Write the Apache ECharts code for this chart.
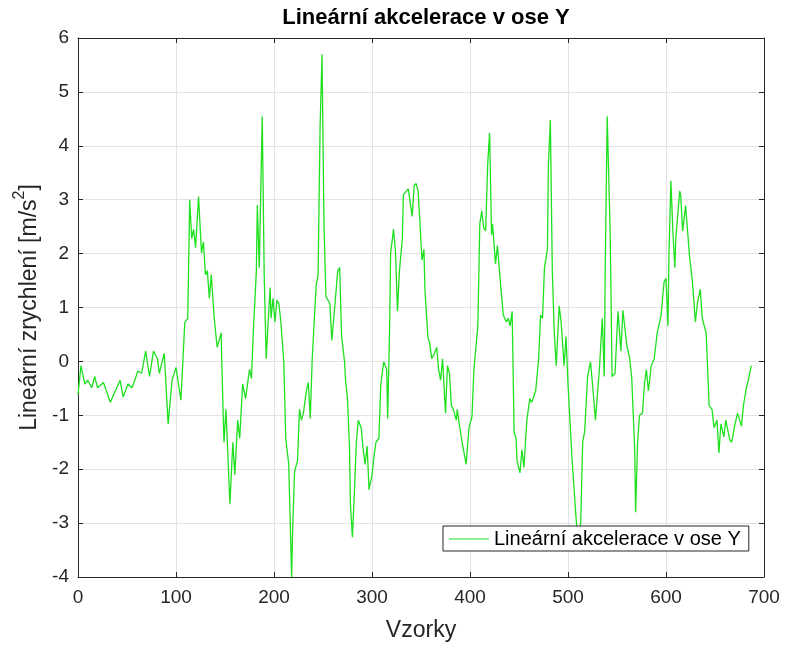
<!DOCTYPE html>
<html>
<head>
<meta charset="utf-8">
<script src="https://cdn.jsdelivr.net/npm/echarts@6/dist/echarts.min.js"></script>
<style>html,body{margin:0;padding:0;background:#fff}#c{width:786px;height:648px}</style>
</head>
<body>
<div id="c"></div>
<script>
var titleText = 'Lineární akcelerace v ose Y';
var seriesName = 'Lineární akcelerace v ose Y';
var xTicks = [0, 100, 200, 300, 400, 500, 600, 700];
var yTicks = [-4, -3, -2, -1, 0, 1, 2, 3, 4, 5, 6];
var samples = [0,3,7,10,14,17,20,26,29,33,38,43,46,51,55,58,61,65,69,73,77,81,83,88,92,96,100,105,109,112,114,116,118,120,123,126,128,130,132,134,136,139,142,144,146,148,149,151,155,158,160,163,165,168,171,175,177,179,182,183,185,188,190,192,196,197,199,201,203,205,207,210,212,215,218,219,221,224,226,228,230,233,235,237,239,242,243,245,247,249,251,253,255,257,259,261,263,265,267,269,272,273,275,277,278,280,282,284,286,289,291,293,295,297,300,302,304,307,309,312,315,316,318,319,322,324,326,328,331,332,335,337,339,341,343,345,347,349,351,353,354,357,359,361,363,366,368,370,372,375,377,379,381,383,386,387,389,392,396,399,402,404,408,410,412,414,416,418,420,422,423,426,428,431,434,437,439,441,443,445,447,448,451,453,455,458,461,463,467,470,472,474,476,479,480,482,484,486,488,491,493,496,498,500,504,508,510,513,515,517,520,523,525,528,530,532,535,537,538,540,543,545,548,551,554,556,560,563,565,568,569,571,573,576,578,580,582,585,588,591,595,598,600,602,603,605,607,609,610,614,615,617,620,622,624,627,630,632,635,637,640,641,644,647,649,652,654,656,659,661,665,667,670,673,677,679,682,684,687];
var values = [-0.62,-0.08,-0.42,-0.35,-0.49,-0.28,-0.49,-0.39,-0.55,-0.76,-0.55,-0.35,-0.66,-0.42,-0.49,-0.35,-0.18,-0.22,0.19,-0.28,0.19,0.05,-0.22,0.15,-1.16,-0.35,-0.11,-0.72,0.73,0.80,3.0,2.28,2.45,2.11,3.06,2.01,2.22,1.61,1.68,1.17,1.61,0.80,0.26,0.39,0.53,-0.89,-1.5,-0.89,-2.65,-1.5,-2.1,-1.09,-1.43,-0.42,-0.69,-0.15,-0.32,0.59,1.68,2.9,1.74,4.55,1.61,0.05,1.37,0.8,1.17,0.73,1.14,1.07,0.73,-0.01,-1.43,-1.9,-4.0,-3.12,-2.04,-1.84,-0.89,-1.09,-0.96,-0.55,-0.39,-1.06,0.05,1.07,1.41,1.61,4.31,5.70,2.55,1.2,1.14,1.07,0.39,0.8,0.8,1.68,1.74,0.46,-0.01,-0.35,-0.69,-1.57,-2.65,-3.26,-2.45,-1.5,-1.09,-1.23,-1.64,-1.91,-1.57,-2.38,-2.11,-1.77,-1.5,-1.43,-0.42,-0.01,-0.15,-1.06,0.66,2.01,2.45,2.01,0.93,1.68,2.28,3.09,3.16,3.2,3.23,2.69,3.26,3.30,3.16,2.55,1.88,2.08,1.34,0.46,0.32,0.05,0.12,0.26,-0.15,-0.35,0.05,-0.96,-0.08,-0.22,-0.82,-0.89,-1.09,-0.89,-1.16,-1.5,-1.91,-1.23,-1.03,-0.15,0.66,2.55,2.79,2.48,2.42,3.64,4.24,2.35,2.55,1.81,2.15,1.47,0.86,0.73,0.8,0.66,0.93,-1.3,-1.43,-1.84,-2.07,-1.64,-1.97,-1.09,-0.69,-0.76,-0.55,0.05,0.86,0.8,1.74,2.08,3.64,4.48,1.68,0.53,-0.08,1.03,0.73,-0.08,0.46,-0.42,-1.77,-2.85,-3.3,-3.0,-1.5,-1.3,-0.28,-0.01,-0.42,-1.09,-1.09,-0.15,0.8,-0.28,1.74,4.55,2.42,-0.28,-0.22,0.93,0.19,0.95,0.3,0.05,-0.3,-1.6,-2.8,-1.5,-1.0,-0.96,-0.42,-0.15,-0.55,-0.08,0.05,0.53,0.86,1.47,1.54,0.66,1.95,3.35,2.42,1.74,2.28,3.16,3.09,2.42,2.89,2.42,1.95,1.47,0.73,1.07,1.34,0.8,0.59,0.53,-0.82,-0.89,-1.23,-1.09,-1.7,-1.16,-1.4,-1.09,-1.45,-1.5,-1.2,-0.96,-1.2,-0.82,-0.49,-0.35,-0.08];

var pts = samples.map(function (s, i) { return [s, values[i]]; });
var FONT = 'Liberation Sans, Arial, sans-serif';
var AX = '#262626';
var chart = echarts.init(document.getElementById('c'));
var gridLine = { show: true, lineStyle: { color: '#e3e3e3', width: 1 } };
chart.setOption({
  animation: false,
  backgroundColor: '#fff',
  title: {
    text: titleText, left: 421, top: 2, textAlign: 'center',
    textStyle: { fontFamily: FONT, fontSize: 22, fontWeight: 'bold', color: '#000' }
  },
  grid: { left: 78, top: 38, width: 686, height: 539 },
  legend: {
    data: [{ name: seriesName, icon: 'rect' }],
    left: 443, top: 526, itemWidth: 40, itemHeight: 1.2, itemGap: 6,
    borderColor: AX, borderWidth: 1, padding: [3, 8, 2, 6], backgroundColor: '#fff',
    textStyle: { fontFamily: FONT, fontSize: 20, color: '#000' }
  },
  xAxis: [{
    type: 'value', min: xTicks[0], max: xTicks[xTicks.length - 1], interval: 100,
    name: 'Vzorky', nameLocation: 'middle', nameGap: 42,
    nameTextStyle: { fontFamily: FONT, fontSize: 23, color: AX },
    axisLine: { show: true, onZero: false, lineStyle: { color: AX, width: 1 } },
    axisTick: { show: true, inside: true, length: 5, lineStyle: { color: AX } },
    axisLabel: { fontFamily: FONT, fontSize: 19, color: AX, margin: 11 },
    splitLine: gridLine
  }, {
    type: 'value', position: 'top', min: 0, max: 700, interval: 100,
    axisLine: { show: true, onZero: false, lineStyle: { color: AX, width: 1 } },
    axisTick: { show: true, inside: true, length: 5, lineStyle: { color: AX } },
    axisLabel: { show: false }, splitLine: { show: false }
  }],
  yAxis: [{
    type: 'value', min: yTicks[0], max: yTicks[yTicks.length - 1], interval: 1,
    name: '{b|Lineární zrychlení [m/s}{sup|2}{b|]}', nameLocation: 'middle', nameGap: 28,
    nameTextStyle: {
      fontFamily: FONT, fontSize: 23, color: AX,
      rich: {
        b: { fontFamily: FONT, fontSize: 23, color: AX, lineHeight: 30, verticalAlign: 'bottom' },
        sup: { fontFamily: FONT, fontSize: 16, color: AX, lineHeight: 16, verticalAlign: 'top' }
      }
    },
    axisLine: { show: true, onZero: false, lineStyle: { color: AX, width: 1 } },
    axisTick: { show: true, inside: true, length: 5, lineStyle: { color: AX } },
    axisLabel: { fontFamily: FONT, fontSize: 19, color: AX, margin: 9 },
    splitLine: gridLine
  }, {
    type: 'value', position: 'right', min: -4, max: 6, interval: 1,
    axisLine: { show: true, onZero: false, lineStyle: { color: AX, width: 1 } },
    axisTick: { show: true, inside: true, length: 5, lineStyle: { color: AX } },
    axisLabel: { show: false }, splitLine: { show: false }
  }],
  series: [{
    name: seriesName, type: 'line', data: pts, showSymbol: false, symbol: 'none',
    lineStyle: { color: '#1fe01f', width: 1.3 }, itemStyle: { color: '#1fe01f' },
    clip: true
  }]
});
</script>
</body>
</html>
